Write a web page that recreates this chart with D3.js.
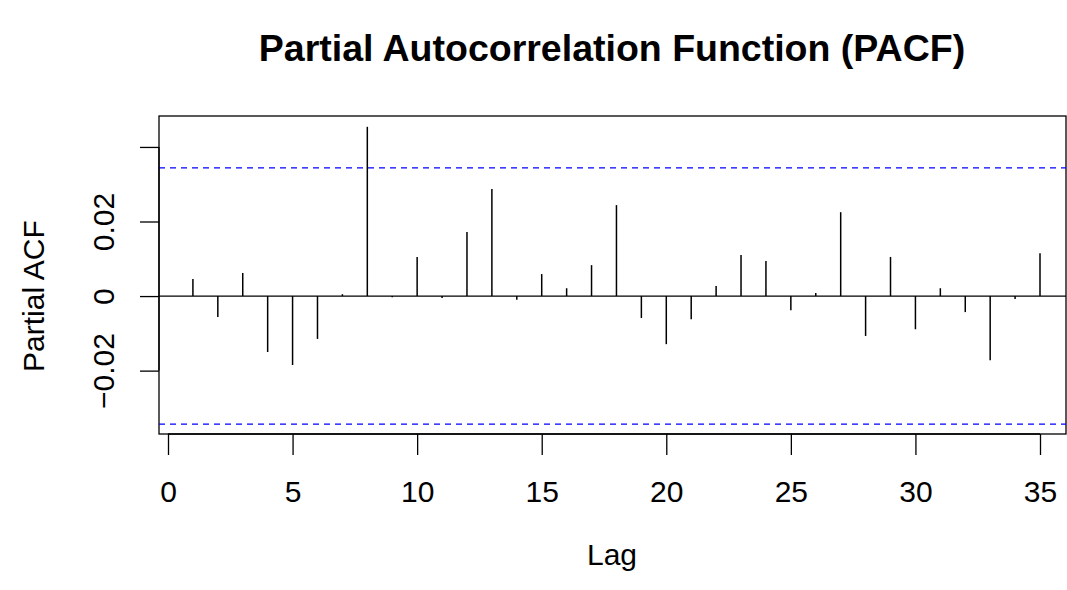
<!DOCTYPE html>
<html><head><meta charset="utf-8">
<script src="https://cdn.jsdelivr.net/npm/d3@7"></script>
<style>body{margin:0;background:#fff}</style>
</head><body>
<div id="chart"></div>
<script>
// PACF values by lag
const lags = d3.range(1, 36);
const pacf = [0.0046,-0.0056,0.0062,-0.0150,-0.0185,-0.0115,0.0005,0.0454,-0.0003,0.0105,
  -0.0005,0.0172,0.0287,-0.0010,0.0059,0.0021,0.0083,0.0244,-0.0059,-0.0129,
  -0.0062,0.0027,0.0110,0.0094,-0.0038,0.0008,0.0225,-0.0107,0.0105,-0.0089,
  0.0021,-0.0043,-0.0172,-0.0008,0.0115];
const ci = 0.03436;
const xTicks = [0,5,10,15,20,25,30,35];
const yTicks = [-0.02,0,0.02,0.04];

const W = 1067, H = 590;
const font = "Liberation Sans, Arial, sans-serif";
const svg = d3.select("#chart").append("svg").attr("width", W).attr("height", H)
  .style("font-family", font);

const x = d3.scaleLinear().domain([0, 35]).range([168, 1040]);
const y = d3.scaleLinear().domain([-0.0370, 0.0483]).range([434, 116]);

// box
svg.append("rect").attr("x", 159).attr("y", 116).attr("width", 907).attr("height", 318)
  .attr("fill", "none").attr("stroke", "#000").attr("stroke-width", 1.3);

// zero line
svg.append("line").attr("x1", 159).attr("x2", 1066).attr("y1", y(0)).attr("y2", y(0))
  .attr("stroke", "#000").attr("stroke-width", 1.3);

// confidence bounds
[ci, -ci].forEach(v => svg.append("line").attr("x1", 159).attr("x2", 1066)
  .attr("y1", y(v)).attr("y2", y(v)).attr("stroke", "#0000ff")
  .attr("stroke-width", 1.3).attr("stroke-dasharray", "6,5"));

// spikes
svg.selectAll(".spike").data(lags).enter().append("line")
  .attr("x1", d => x(d)).attr("x2", d => x(d))
  .attr("y1", y(0)).attr("y2", (d, i) => y(pacf[i]))
  .attr("stroke", "#000").attr("stroke-width", 1.5);

// x axis
const xa = svg.append("g").attr("transform", "translate(0,434)")
  .call(d3.axisBottom(x).tickValues(xTicks).tickSize(21).tickPadding(26).tickFormat(d3.format("d")));
xa.select(".domain").attr("d", `M${x(0)},0H${x(35)}`).attr("stroke-width", 1.3);
xa.selectAll(".tick line").attr("stroke-width", 1.3);
xa.selectAll("text").attr("font-size", 30).attr("font-family", font);

// y axis
const ya = svg.append("g").attr("transform", "translate(159,0)")
  .call(d3.axisLeft(y).tickValues(yTicks).tickSize(19).tickFormat(d => d === 0.04 ? "" : (d < 0 ? "\u22120.02" : d === 0 ? "0" : "0.02")));
ya.select(".domain").attr("d", `M0,${y(-0.02)}V${y(0.04)}`).attr("stroke-width", 1.3);
ya.selectAll(".tick line").attr("stroke-width", 1.3);
ya.selectAll("text").attr("font-size", 30).attr("font-family", font)
  .attr("transform", "translate(-45,0) rotate(-90)")
  .attr("x", 0).attr("dy", 0).attr("text-anchor", "middle");

// titles
svg.append("text").attr("x", 612).attr("y", 61).attr("text-anchor", "middle")
  .attr("font-size", 37.5).attr("font-weight", "bold").text("Partial Autocorrelation Function (PACF)");
svg.append("text").attr("x", 612).attr("y", 565).attr("text-anchor", "middle")
  .attr("font-size", 30).text("Lag");
svg.append("text").attr("transform", `translate(44,${y(0)}) rotate(-90)`).attr("text-anchor", "middle")
  .attr("font-size", 30).text("Partial ACF");
</script>
</body></html>
